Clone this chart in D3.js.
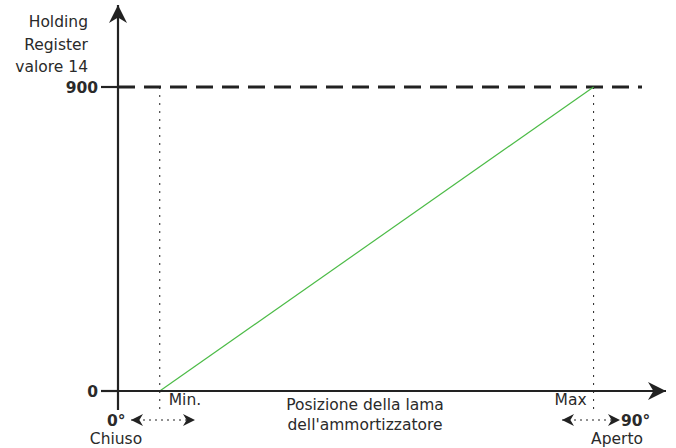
<!DOCTYPE html>
<html><head><meta charset="utf-8">
<script src="https://cdn.jsdelivr.net/npm/d3@7"></script>
<style>body{margin:0;background:#fff}svg{display:block}text{font-family:"DejaVu Sans",Verdana,sans-serif;fill:#2a2a2a}</style>
</head><body><svg id="c" width="676" height="448"></svg>
<script>
// data
const yTicks = [0, 900];
const yTickLabels = ["0", "900"];
const yTitle = ["Holding", "Register", "valore 14"];
const xTitle = ["Posizione della lama", "dell'ammortizzatore"];
const positions = ["Min", "Max"];
const positionValues = [7.2, 82];      // degrees of damper blade
const registerValues = [0, 900];       // holding register value
const limitLabels = ["Min.", "Max"];
const endLabels = ["0°", "90°"];
const endNames = ["Chiuso", "Aperto"];

const svg = d3.select("#c");
const x = d3.scaleLinear().domain([0, 90]).range([118, 640]);
const y = d3.scaleLinear().domain([0, 900]).range([391, 87]);
const dark = "#222";
const fs = 15.5;

const defs = svg.append("defs");
function marker(id, w, h){
  defs.append("marker").attr("id", id).attr("viewBox", "0 0 10 10").attr("refX", 10).attr("refY", 5)
    .attr("markerUnits", "userSpaceOnUse").attr("markerWidth", w).attr("markerHeight", h).attr("orient", "auto-start-reverse")
    .append("path").attr("d", "M0,0 L10,5 L0,10 L3,5 Z").attr("fill", dark);
}
marker("big", 20, 18);
marker("small", 14, 12);

// 900 dashed reference
svg.append("line").attr("x1", x(0)).attr("x2", 642).attr("y1", y(900)).attr("y2", y(900))
  .attr("stroke", dark).attr("stroke-width", 3).attr("stroke-dasharray", "17,9");

// dotted verticals
positionValues.forEach(v => {
  svg.append("line").attr("x1", x(v)).attr("x2", x(v)).attr("y1", y(900)).attr("y2", 412)
    .attr("stroke", dark).attr("stroke-width", 1).attr("stroke-dasharray", "2,6");
});

// green line
const line = d3.line().x(d => x(d[0])).y(d => y(d[1]));
svg.append("path").datum(positionValues.map((p, i) => [p, registerValues[i]]))
  .attr("d", line).attr("fill", "none").attr("stroke", "#4cbb47").attr("stroke-width", 1.2);

// axes
svg.append("line").attr("x1", x(0)).attr("x2", x(0)).attr("y1", 410).attr("y2", 5)
  .attr("stroke", dark).attr("stroke-width", 2.2).attr("marker-end", "url(#big)");
svg.append("line").attr("x1", 101).attr("x2", 666).attr("y1", y(0)).attr("y2", y(0))
  .attr("stroke", dark).attr("stroke-width", 2.2).attr("marker-end", "url(#big)");

// y ticks
yTicks.forEach((t, i) => {
  svg.append("line").attr("x1", 101).attr("x2", x(0)).attr("y1", y(t)).attr("y2", y(t))
    .attr("stroke", dark).attr("stroke-width", 2.2);
  svg.append("text").attr("x", 98).attr("y", y(t) + 5.5).attr("text-anchor", "end")
    .attr("font-size", fs).attr("font-weight", "bold").text(yTickLabels[i]);
});

// y title
svg.append("text").attr("text-anchor", "end").attr("font-size", fs)
  .selectAll("tspan").data(yTitle).join("tspan").attr("x", 88).attr("y", (d, i) => 27 + i * 22.5).text(d => d);

// x title
svg.append("text").attr("text-anchor", "middle").attr("font-size", fs)
  .selectAll("tspan").data(xTitle).join("tspan").attr("x", 365).attr("y", (d, i) => 410 + i * 20).text(d => d);

// Min / Max labels
svg.append("text").attr("x", x(positionValues[0]) + 9).attr("y", 405).attr("font-size", fs).text(limitLabels[0]);
svg.append("text").attr("x", x(positionValues[1]) - 7).attr("y", 405).attr("text-anchor", "end").attr("font-size", fs).text(limitLabels[1]);

// dotted double arrows
[[131, 195], [562, 620]].forEach(r => {
  svg.append("line").attr("x1", r[0]).attr("x2", r[1]).attr("y1", 420).attr("y2", 420)
    .attr("stroke", dark).attr("stroke-width", 1).attr("stroke-dasharray", "2,4")
    .attr("marker-start", "url(#small)").attr("marker-end", "url(#small)");
});

// end labels
svg.append("text").attr("x", 107).attr("y", 426).attr("font-size", fs).attr("font-weight", "bold").text(endLabels[0]);
svg.append("text").attr("x", 621).attr("y", 426).attr("font-size", fs).attr("font-weight", "bold").text(endLabels[1]);
svg.append("text").attr("x", 116).attr("y", 444).attr("text-anchor", "middle").attr("font-size", fs).text(endNames[0]);
svg.append("text").attr("x", 617).attr("y", 444).attr("text-anchor", "middle").attr("font-size", fs).text(endNames[1]);
</script></body></html>
